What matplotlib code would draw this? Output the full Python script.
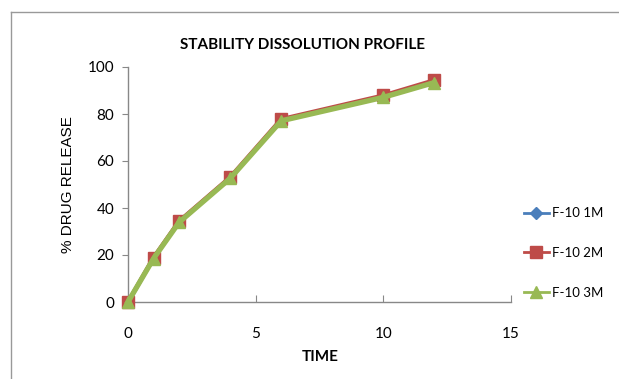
import matplotlib
matplotlib.use("Agg")
import matplotlib.pyplot as plt
from matplotlib.lines import Line2D

time = [0, 1, 2, 4, 6, 10, 12]
f10_1m = [0, 18.6, 34.1, 52.8, 77.3, 87.4, 93.8]
f10_2m = [0, 18.9, 34.4, 53.1, 77.8, 87.9, 94.4]
f10_3m = [0, 18.5, 33.9, 52.6, 77.1, 87.1, 93.4]
labels = ["F-10 1M", "F-10 2M", "F-10 3M"]
xticks = [0, 5, 10, 15]
yticks = [0, 20, 40, 60, 80, 100]

fig = plt.figure(figsize=(6.19, 3.79), dpi=100)
ax = fig.add_axes([128/619, 1-302/379, (511-128)/619, (302-67)/379])

ax.plot(time, f10_1m, color="#4A7EBB", marker="D", markersize=6, lw=3, label=labels[0], clip_on=False, zorder=3)
ax.plot(time, f10_2m, color="#BE4B48", marker="s", markersize=8, lw=3, label=labels[1], clip_on=False, zorder=4)
ax.plot(time, f10_3m, color="#98B954", marker="^", markersize=8, lw=3.8, label=labels[2], clip_on=False, zorder=5)

ax.set_xlim(0, 15)
ax.set_ylim(0, 100)
ax.set_xticks(xticks)
ax.set_yticks(yticks)
for s in ["top", "right"]:
    ax.spines[s].set_visible(False)
for s in ["left", "bottom"]:
    ax.spines[s].set_color("#888888")
    ax.spines[s].set_linewidth(1)
ax.tick_params(axis="x", direction="in", length=5, color="#888888", pad=18, labelsize=11)
ax.tick_params(axis="y", direction="out", length=4, color="#888888", pad=6, labelsize=11)
for t in ax.get_xticklabels() + ax.get_yticklabels():
    t.set_fontfamily("Lato")

fig.text(303/619, 1-45/379, "STABILITY DISSOLUTION PROFILE", ha="center", va="center",
         fontsize=11, fontweight="bold", family="Lato")
fig.text(320/619, 1-357/379, "TIME", ha="center", va="center", fontsize=11,
         fontweight="bold", family="Lato")
fig.text(68/619, 1-185/379, "% DRUG RELEASE", ha="center", va="center", rotation=90,
         fontsize=11, family="Liberation Sans")

handles, lbls = ax.get_legend_handles_labels()
leg = fig.legend(handles, lbls, loc="center left", bbox_to_anchor=(512/619, 1-253/379),
                 frameon=False, labelspacing=2.1, handlelength=1.9, handletextpad=0.2,
                 prop={"family": "Lato", "size": 9.5})
for h in leg.legend_handles:
    h.set_linewidth(2)

# chart border (left and top edges visible)
fig.add_artist(Line2D([11/619, 11/619], [0, 1-12/379], transform=fig.transFigure, color="#999999", lw=1))
fig.add_artist(Line2D([11/619, 1], [1-12/379, 1-12/379], transform=fig.transFigure, color="#999999", lw=1))

fig.savefig("out.png", dpi=100)
